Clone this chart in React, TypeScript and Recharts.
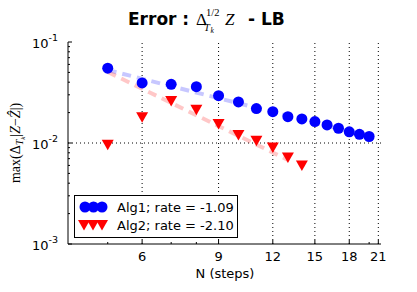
import {
  Legend,
  ReferenceLine,
  Scatter,
  ScatterChart,
  XAxis,
  YAxis,
} from 'recharts'

// values
const alg1Steps = [5, 6, 7, 8, 9, 10, 11, 12, 13, 14, 15, 16, 17, 18, 19, 20]
const alg1Error = [
  0.055, 0.0393, 0.0381, 0.0361, 0.0294, 0.0255, 0.0219, 0.0204, 0.0182, 0.0173,
  0.0163, 0.0151, 0.014, 0.0129, 0.0122, 0.0116,
]
const alg2Steps = [5, 6, 7, 8, 9, 10, 11, 12, 13, 14]
const alg2Error = [0.0096, 0.018, 0.0261, 0.0214, 0.0154, 0.012, 0.0105, 0.009, 0.0072, 0.006]

// fitted rate lines (end points only, straight in log-log)
const fit1Steps = [5, 20]
const fit1Error = [0.0528, 0.0116]
const fit2Steps = [5, 13]
const fit2Error = [0.0505, 0.0068]

const xMajorTicks = [6, 9, 12, 15, 18, 21]
const xMinorTicks = [5, 7, 8, 20]
const yMajorTicks = [0.001, 0.01, 0.1]
const yMinorTicks = [
  0.002, 0.003, 0.004, 0.005, 0.006, 0.007, 0.008, 0.009,
  0.02, 0.03, 0.04, 0.05, 0.06, 0.07, 0.08, 0.09,
]
const yTickExponents = ['-3', '-2', '-1']
const legendLabels = ['Alg1; rate = -1.09', 'Alg2; rate = -2.10']

const toPoints = (steps: number[], errors: number[]) =>
  steps.map((n, i) => ({ n, err: errors[i] }))

const alg1Data = toPoints(alg1Steps, alg1Error)
const alg2Data = toPoints(alg2Steps, alg2Error)
const fit1Data = toPoints(fit1Steps, fit1Error)
const fit2Data = toPoints(fit2Steps, fit2Error)

const SANS = 'DejaVu Sans, sans-serif'
const SERIF = 'Liberation Serif, serif'
const BLUE = '#0000ff'
const RED = '#ff0000'

const xTicks = [...xMinorTicks, ...xMajorTicks].sort((a, b) => a - b)
const yTicks = [...yMinorTicks, ...yMajorTicks].sort((a, b) => a - b)

function Circle({ cx, cy }: any) {
  return <circle cx={cx} cy={cy} r={5.5} fill={BLUE} />
}

function Triangle({ cx, cy }: any) {
  return (
    <polygon
      points={`${cx - 6},${cy - 5} ${cx + 6},${cy - 5} ${cx},${cy + 5.5}`}
      fill={RED}
    />
  )
}

function BottomTick({ x, y, payload }: any) {
  const major = xMajorTicks.includes(payload.value)
  return (
    <g>
      <line x1={x} x2={x} y1={y} y2={y - (major ? 4 : 2)} stroke="#000" />
      {major && (
        <text x={x} y={y + 17} textAnchor="middle" fontSize={13} fontFamily={SANS} fill="#000">
          {payload.value}
        </text>
      )}
    </g>
  )
}

function TopTick({ x, y, payload }: any) {
  const major = xMajorTicks.includes(payload.value)
  return <line x1={x} x2={x} y1={y} y2={y + (major ? 4 : 2)} stroke="#000" />
}

function LeftTick({ x, y, payload }: any) {
  const idx = yMajorTicks.indexOf(payload.value)
  const major = idx >= 0
  return (
    <g>
      <line x1={x} x2={x + (major ? 4 : 2)} y1={y} y2={y} stroke="#000" />
      {major && (
        <text x={x - 10} y={y + 6} textAnchor="end" fontSize={13} fontFamily={SANS} fill="#000">
          10<tspan dy={-7} fontSize={9.5}>{yTickExponents[idx]}</tspan>
        </text>
      )}
    </g>
  )
}

function RightTick({ x, y, payload }: any) {
  const major = yMajorTicks.includes(payload.value)
  return <line x1={x} x2={x - (major ? 4 : 2)} y1={y} y2={y} stroke="#000" />
}

function LegendBox() {
  return (
    <div style={{ border: '1px solid #000', background: '#fff', width: 162, height: 41 }}>
      <svg width={162} height={41} style={{ display: 'block' }}>
        {[10, 18.5, 27].map((cx) => (
          <Circle key={cx} cx={cx} cy={11} />
        ))}
        {[9, 18, 27].map((cx) => (
          <Triangle key={cx} cx={cx} cy={29} />
        ))}
        <text x={42} y={16} fontSize={13} fontFamily={SANS}>{legendLabels[0]}</text>
        <text x={42} y={34} fontSize={13} fontFamily={SANS}>{legendLabels[1]}</text>
      </svg>
    </div>
  )
}

export default function App() {
  return (
    <div style={{ position: 'absolute', left: 0, top: 0, background: '#fff' }}>
      <ScatterChart width={417} height={292} margin={{ top: 42, right: 36, bottom: 18, left: 0 }}>
        <XAxis
          xAxisId={0}
          dataKey="n"
          type="number"
          scale="log"
          domain={[4.05, 21.3]}
          allowDataOverflow
          ticks={xTicks}
          interval={0}
          tickSize={0}
          tickMargin={0}
          tickLine={false}
          tick={<BottomTick />}
          axisLine={{ stroke: '#000' }}
          height={30}
        />
        <XAxis
          xAxisId="top"
          orientation="top"
          dataKey="n"
          type="number"
          scale="log"
          domain={[4.05, 21.3]}
          allowDataOverflow
          ticks={xTicks}
          interval={0}
          tickSize={0}
          tickMargin={0}
          tickLine={false}
          tick={<TopTick />}
          axisLine={{ stroke: '#000' }}
          height={0}
        />
        <YAxis
          yAxisId={0}
          dataKey="err"
          type="number"
          scale="log"
          domain={[0.001, 0.1]}
          allowDataOverflow
          ticks={yTicks}
          interval={0}
          tickSize={0}
          tickMargin={0}
          tickLine={false}
          tick={<LeftTick />}
          axisLine={{ stroke: '#000' }}
          width={68}
        />
        <YAxis
          yAxisId="right"
          orientation="right"
          dataKey="err"
          type="number"
          scale="log"
          domain={[0.001, 0.1]}
          allowDataOverflow
          ticks={yTicks}
          interval={0}
          tickSize={0}
          tickMargin={0}
          tickLine={false}
          tick={<RightTick />}
          axisLine={{ stroke: '#000' }}
          width={0}
        />

        {xMajorTicks.map((t) => (
          <ReferenceLine key={t} x={t} stroke="#000" strokeDasharray="1 3" />
        ))}
        <ReferenceLine y={0.01} stroke="#000" strokeDasharray="1 3" />

        <Scatter
          data={fit1Data}
          line={{ stroke: BLUE, strokeOpacity: 0.22, strokeWidth: 4, strokeDasharray: '9 6' }}
          shape={() => <g />}
          isAnimationActive={false}
        />
        <Scatter
          data={fit2Data}
          line={{ stroke: RED, strokeOpacity: 0.22, strokeWidth: 4, strokeDasharray: '9 6' }}
          shape={() => <g />}
          isAnimationActive={false}
        />
        <Scatter name={legendLabels[0]} data={alg1Data} shape={<Circle />} isAnimationActive={false} />
        <Scatter name={legendLabels[1]} data={alg2Data} shape={<Triangle />} isAnimationActive={false} />

        <Legend
          layout="horizontal"
          verticalAlign="middle"
          align="center"
          content={<LegendBox />}
          wrapperStyle={{ left: 74, top: 195, width: 164, height: 43 }}
        />

        <text y={25} fontSize={17} fill="#000">
          <tspan x={128} fontFamily={SANS} fontWeight="bold">Error :</tspan>
          <tspan x={196} fontFamily={SERIF} fontSize={17}>Δ</tspan>
          <tspan x={206} y={16} fontFamily={SERIF} fontSize={10.5}>1/2</tspan>
          <tspan x={204} y={31} fontFamily={SERIF} fontSize={10.5} fontStyle="italic">T</tspan>
          <tspan x={210.5} y={33} fontFamily={SERIF} fontSize={7.5} fontStyle="italic">k</tspan>
          <tspan x={225} y={25} fontFamily={SERIF} fontSize={17} fontStyle="italic">Z</tspan>
          <tspan x={248} y={25} fontFamily={SANS} fontWeight="bold">- LB</tspan>
        </text>

        <text
          transform="translate(20,143) rotate(-90)"
          textAnchor="middle"
          fontFamily={SERIF}
          fontSize={14}
          fill="#000"
        >
          max(Δ
          <tspan dy={3} fontSize={10} fontStyle="italic">T</tspan>
          <tspan dy={2} fontSize={7} fontStyle="italic">k</tspan>
          <tspan dy={-5}>|</tspan>
          <tspan fontStyle="italic">Z</tspan>
          <tspan>−</tspan>
          <tspan fontStyle="italic">Ẑ</tspan>
          <tspan>|)</tspan>
        </text>

        <text x={225} y={278} textAnchor="middle" fontFamily={SANS} fontSize={13} fill="#000">
          N (steps)
        </text>
      </ScatterChart>
    </div>
  )
}
